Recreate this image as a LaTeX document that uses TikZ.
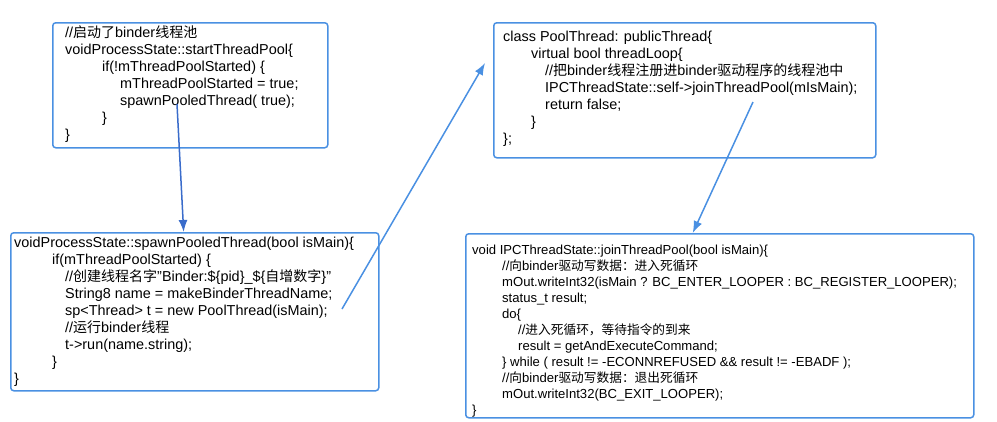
\documentclass[tikz,border=0pt]{standalone}
\usepackage{fontspec}
\setmainfont[Scale=1.03]{Liberation Sans}
\newfontfamily\cjk{Noto Sans CJK SC}
\usepackage{xcolor}
\usetikzlibrary{arrows.meta, calc}

\definecolor{boxblue}{HTML}{4A90E2}
\definecolor{darkblue}{HTML}{3A6CCB}
\newcommand{\ind}[1]{\hspace*{#1pt}}

\begin{document}
\begin{tikzpicture}[x=1pt,y=-1pt,
		codebox/.style={draw=boxblue,line width=1.5pt,rounded corners=3pt,anchor=north west,inner sep=0pt},
		code/.style={anchor=north west,inner sep=0pt,align=left,font=\fontsize{14}{17}\selectfont},
		flow/.style={draw=boxblue,line width=1.5pt,-{Latex[length=12pt,width=9pt]}}]
		\useasboundingbox (0,0) rectangle (997,421);
		% boxes
		\node[codebox,minimum width=275pt,minimum height=125pt] (start) at (52,22) {};
		\node[codebox,minimum width=368pt,minimum height=158pt] (spawn) at (10,232) {};
		\node[codebox,minimum width=382pt,minimum height=135pt] (pool) at (493,22) {};
		\node[codebox,minimum width=508pt,minimum height=184pt] (join) at (465,233) {};
		% code text
		\node[code] (starttxt) at (65,26) {//{\cjk 启动了}binder{\cjk 线程池}\\
			voidProcessState::startThreadPool\{\\
			\ind{37}if(!mThreadPoolStarted) \{\\
			\ind{55}mThreadPoolStarted = true;\\
			\ind{55}spawnPooledThread( true);\\
			\ind{37}\}\\
			\}};
		\node[code] (spawntxt) at (14,236.5) {voidProcessState::spawnPooledThread(bool isMain)\{\\
			\ind{38}if(mThreadPoolStarted) \{\\
			\ind{51}//{\cjk 创建线程名字}"Binder:\$\{pid\}\_\$\{{\cjk 自增数字}\}"\\
			\ind{51}String8 name = makeBinderThreadName;\\
			\ind{51}sp<Thread> t = new PoolThread(isMain);\\
			\ind{51}//{\cjk 运行}binder{\cjk 线程}\\
			\ind{51}t->run(name.string);\\
			\ind{38}\}\\
			\}};
		\node[code] (pooltxt) at (503,31) {class PoolThread: publicThread\{\\
			\ind{28}virtual bool threadLoop\{\\
			\ind{42}//{\cjk 把}binder{\cjk 线程注册进}binder{\cjk 驱动程序的线程池中}\\
			\ind{42}IPCThreadState::self->joinThreadPool(mIsMain);\\
			\ind{42}return false;\\
			\ind{28}\}\\
			\};};
		\node[code,font=\fontsize{12.7}{16}\selectfont] (jointxt) at (472,244.5) {void IPCThreadState::joinThreadPool(bool isMain)\{\\
			\ind{30}//{\cjk 向}binder{\cjk 驱动写数据：进入死循环}\\
			\ind{30}mOut.writeInt32(isMain ? BC\_ENTER\_LOOPER : BC\_REGISTER\_LOOPER);\\
			\ind{30}status\_t result;\\
			\ind{30}do\{\\
			\ind{46}//{\cjk 进入死循环，等待指令的到来}\\
			\ind{46}result = getAndExecuteCommand;\\
			\ind{30}\} while ( result != -ECONNREFUSED \&\& result != -EBADF );\\
			\ind{30}//{\cjk 向}binder{\cjk 驱动写数据：退出死循环}\\
			\ind{30}mOut.writeInt32(BC\_EXIT\_LOOPER);\\
			\}};
		% calls
		\coordinate (s1) at (177,104);
		\coordinate (s2) at (342,309);
		\coordinate (e2) at (485,63);
		\coordinate (s3) at (753,102);
		\draw[flow,draw=darkblue,fill=darkblue] (s1) -- ($(spawn.north west)!0.47!(spawn.north east)$);
		\draw[flow,fill=boxblue] (s2) -- (e2);
		\draw[flow,fill=boxblue] (s3) -- ($(join.north west)!0.447!(join.north east)$);
\end{tikzpicture}
\end{document}
